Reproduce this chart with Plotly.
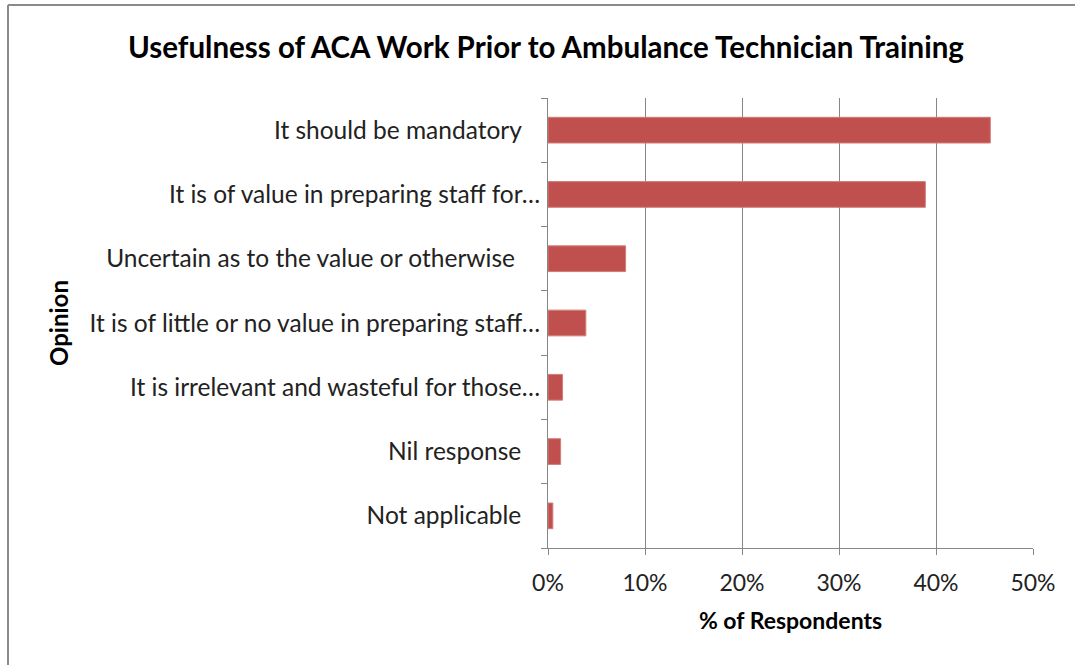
import plotly.graph_objects as go

# Survey responses, listed top to bottom as shown on the chart
NB3 = "\u00a0" * 3  # trailing padding kept on the untruncated labels
NB4 = "\u00a0" * 4
opinions = [
    "It should be mandatory" + NB3,
    "It is of value in preparing staff for…",
    "Uncertain as to the value or otherwise" + NB4,
    "It is of little or no value in preparing staff…",
    "It is irrelevant and wasteful for those…",
    "Nil response" + NB3,
    "Not applicable" + NB3,
]
percent_respondents = [45.6, 38.9, 8.0, 3.9, 1.5, 1.3, 0.5]
x_ticks = [0, 10, 20, 30, 40, 50]
x_tick_labels = ["0%", "10%", "20%", "30%", "40%", "50%"]

FONT = "Lato, Carlito, Calibri, sans-serif"
GRID = "#868686"

fig = go.Figure(
    go.Bar(
        x=percent_respondents,
        y=opinions,
        orientation="h",
        marker=dict(color="#C0504D", line=dict(color="#D27C7A", width=1)),
        hoverinfo="x+y",
    )
)

W, H = 1075, 665
ml, mr, mt, mb = 548, 42, 98, 117
pw, ph = W - ml - mr, H - mt - mb

fig.update_layout(
    width=W,
    height=H,
    margin=dict(l=ml, r=mr, t=mt, b=mb, pad=0),
    paper_bgcolor="white",
    plot_bgcolor="white",
    bargap=0.6,
    showlegend=False,
    font=dict(family=FONT, color="#1a1a1a"),
    title=dict(
        text="<b>Usefulness of ACA Work Prior to Ambulance Technician Training</b>",
        x=546 / W,
        xanchor="center",
        y=1 - 48 / H,
        yanchor="middle",
        font=dict(size=29.5, family=FONT, color="#000000"),
    ),
    xaxis=dict(
        range=[0, 50],
        tickvals=x_ticks,
        ticktext=x_tick_labels,
        showgrid=True,
        gridcolor=GRID,
        gridwidth=1,
        showline=True,
        linecolor=GRID,
        linewidth=1,
        ticks="outside",
        ticklen=6,
        tickcolor=GRID,
        tickfont=dict(size=23, family=FONT, color="#222222"),
        ticklabelstandoff=8,
        zeroline=False,
        title=dict(
            text="<b>% of Respondents</b>",
            font=dict(size=23, family=FONT, color="#000000"),
            standoff=18,
        ),
        fixedrange=True,
    ),
    yaxis=dict(
        categoryorder="array",
        categoryarray=opinions[::-1],
        autorange=True,
        showgrid=False,
        showline=True,
        linecolor=GRID,
        linewidth=1,
        ticks="outside",
        tickson="boundaries",
        ticklen=6,
        tickcolor=GRID,
        tickfont=dict(size=24.5, family=FONT, color="#222222"),
        ticklabelstandoff=2,
        title=dict(
            text="<b>Opinion</b>",
            font=dict(size=24, family=FONT, color="#000000"),
            standoff=14,
        ),
        fixedrange=True,
    ),
)

# Chart frame: left and top edges of the outer border
left_px, top_px = 8, 5
fx = (left_px - ml) / pw
fy = (H - mb - top_px) / ph
fig.add_shape(type="line", xref="paper", yref="paper",
              x0=fx, x1=(W + 5 - ml) / pw, y0=fy, y1=fy,
              line=dict(color="#8a8a8a", width=2))
fig.add_shape(type="line", xref="paper", yref="paper",
              x0=fx, x1=fx, y0=fy, y1=-(mb + 5) / ph,
              line=dict(color="#8a8a8a", width=2))

fig.write_html("out.html", config={"displayModeBar": False})
